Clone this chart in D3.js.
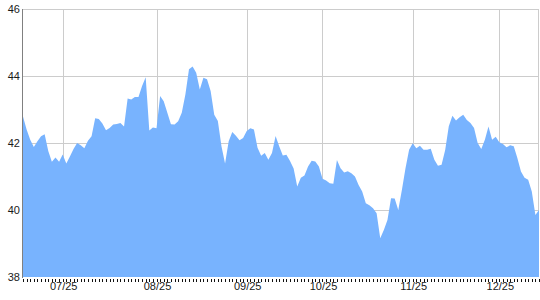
<!DOCTYPE html>
<html>
<head>
<meta charset="utf-8">
<script src="https://cdn.jsdelivr.net/npm/d3@7/dist/d3.min.js"></script>
<style>
  body { margin: 0; background: #fff; }
  text { font-family: "Liberation Sans", Arial, sans-serif; font-size: 11px; fill: #1a1a1a; }
</style>
</head>
<body>
<div id="chart"></div>
<script>
// daily values
var values = [
  42.79, 42.40, 42.10, 41.88, 42.05, 42.20, 42.26, 41.76, 41.44, 41.57,
  41.44, 41.66, 41.39, 41.60, 41.82, 42.00, 41.93, 41.84, 42.07, 42.20,
  42.74, 42.72, 42.58, 42.38, 42.45, 42.55, 42.57, 42.60, 42.49, 43.33,
  43.30, 43.37, 43.37, 43.70, 43.96, 42.37, 42.46, 42.44, 43.40, 43.25,
  42.90, 42.56, 42.55, 42.65, 42.90, 43.45, 44.20, 44.28, 44.10, 43.60,
  43.95, 43.90, 43.55, 42.84, 42.66, 41.90, 41.39, 42.05, 42.33, 42.22,
  42.08, 42.15, 42.36, 42.44, 42.40, 41.86, 41.62, 41.70, 41.50, 41.70,
  42.21, 41.90, 41.63, 41.65, 41.46, 41.24, 40.70, 40.96, 41.03, 41.30,
  41.47, 41.45, 41.30, 40.93, 40.88, 40.80, 40.78, 41.49, 41.25, 41.12,
  41.16, 41.10, 41.00, 40.75, 40.55, 40.20, 40.14, 40.05, 39.90, 39.16,
  39.40, 39.70, 40.35, 40.34, 40.00, 40.60, 41.25, 41.80, 41.99, 41.84,
  41.92, 41.80, 41.80, 41.83, 41.50, 41.32, 41.35, 41.79, 42.50, 42.81,
  42.67, 42.77, 42.84, 42.69, 42.60, 42.45, 42.00, 41.82, 42.10, 42.49,
  42.10, 42.19, 42.02, 41.97, 41.87, 41.93, 41.90, 41.55, 41.15, 40.96,
  40.90, 40.55, 39.85, 40.00
];

// month labels and the index of the point they sit on
var monthLabels = ["07/25", "08/25", "09/25", "10/25", "11/25", "12/25"];
var monthIndex = [11, 37, 62, 83, 108, 132];

var yTicks = [38, 40, 42, 44, 46];

var width = 540, height = 300;
var margin = {top: 9, right: 1, bottom: 23, left: 23};

var svg = d3.select("#chart")
    .append("svg")
    .attr("width", width)
    .attr("height", height);

var x = d3.scaleLinear()
    .domain([0, values.length - 1])
    .range([margin.left, width - margin.right]);

var y = d3.scaleLinear()
    .domain([38, 46])
    .range([height - margin.bottom, margin.top]);

var crisp = v => Math.round(v) + 0.5;

// grid behind the area
var grid = svg.append("g").attr("stroke", "#cccccc").attr("stroke-width", 1);

grid.selectAll(".hgrid")
    .data(yTicks.slice(1))
    .enter().append("line")
    .attr("x1", x(0))
    .attr("x2", x(values.length - 1))
    .attr("y1", d => crisp(y(d)))
    .attr("y2", d => crisp(y(d)));

grid.selectAll(".vgrid")
    .data(monthIndex)
    .enter().append("line")
    .attr("x1", d => crisp(x(d)))
    .attr("x2", d => crisp(x(d)))
    .attr("y1", y(46))
    .attr("y2", y(38));

// right border of the plot
grid.append("line")
    .attr("x1", crisp(x(values.length - 1)) - 1)
    .attr("x2", crisp(x(values.length - 1)) - 1)
    .attr("y1", y(46))
    .attr("y2", y(38));

var area = d3.area()
    .x((d, i) => x(i))
    .y0(y(38))
    .y1(d => y(d));

svg.append("path")
    .datum(values)
    .attr("fill", "#78b3fe")
    .attr("d", area);

// left axis line
svg.append("line")
    .attr("x1", crisp(x(0)) - 1)
    .attr("x2", crisp(x(0)) - 1)
    .attr("y1", y(46))
    .attr("y2", y(38) + 1)
    .attr("stroke", "#808080");

// y labels
svg.selectAll(".ylab")
    .data(yTicks)
    .enter().append("text")
    .attr("x", x(0) - 3)
    .attr("y", d => y(d) + 4)
    .attr("text-anchor", "end")
    .text(d => d);

// one small tick per point along the bottom
svg.selectAll(".xtick")
    .data(values)
    .enter().append("line")
    .attr("x1", (d, i) => crisp(x(i)))
    .attr("x2", (d, i) => crisp(x(i)))
    .attr("y1", y(38) + 2)
    .attr("y2", y(38) + 5)
    .attr("stroke", "#111");

// month labels
svg.selectAll(".xlab")
    .data(monthIndex)
    .enter().append("text")
    .attr("x", d => x(d) + 1)
    .attr("y", y(38) + 13)
    .attr("text-anchor", "middle")
    .text((d, i) => monthLabels[i]);
</script>
</body>
</html>
